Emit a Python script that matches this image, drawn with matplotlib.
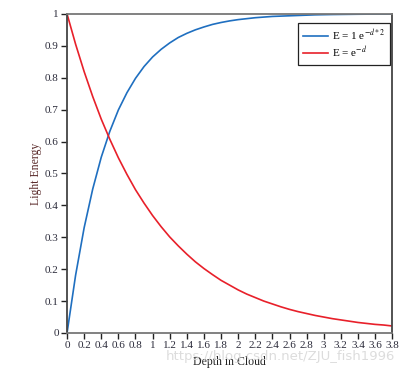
import matplotlib
matplotlib.use('Agg')
import numpy as np
from matplotlib import pyplot as plt

# values
depth = [0.0, 0.1, 0.2, 0.3, 0.4, 0.5, 0.6, 0.7, 0.8, 0.9, 1.0, 1.1, 1.2, 1.3,
         1.4, 1.5, 1.6, 1.7, 1.8, 1.9, 2.0, 2.1, 2.2, 2.3, 2.4, 2.5, 2.6, 2.7,
         2.8, 2.9, 3.0, 3.1, 3.2, 3.3, 3.4, 3.5, 3.6, 3.7, 3.8]
energy_blue = [0.0, 0.181, 0.330, 0.451, 0.551, 0.632, 0.699, 0.753, 0.798, 0.835,
               0.865, 0.889, 0.909, 0.926, 0.939, 0.950, 0.959, 0.967, 0.973, 0.978,
               0.982, 0.985, 0.988, 0.990, 0.992, 0.993, 0.994, 0.995, 0.996, 0.997,
               0.9975, 0.998, 0.9983, 0.9986, 0.9989, 0.9991, 0.9993, 0.9994, 0.9995]
energy_red = [1.0, 0.905, 0.819, 0.741, 0.670, 0.607, 0.549, 0.497, 0.449, 0.407,
              0.368, 0.333, 0.301, 0.273, 0.247, 0.223, 0.202, 0.183, 0.165, 0.150,
              0.135, 0.122, 0.111, 0.100, 0.091, 0.082, 0.074, 0.067, 0.061, 0.055,
              0.050, 0.045, 0.041, 0.037, 0.033, 0.030, 0.027, 0.025, 0.022]
label_blue = r'E = 1 e$^{-d*2}$'
label_red = r'E = e$^{-d}$'
xticks = [0, 0.2, 0.4, 0.6, 0.8, 1, 1.2, 1.4, 1.6, 1.8, 2, 2.2, 2.4, 2.6, 2.8,
          3, 3.2, 3.4, 3.6, 3.8]
yticks = [0, 0.1, 0.2, 0.3, 0.4, 0.5, 0.6, 0.7, 0.8, 0.9, 1]

plt.rcParams['font.family'] = ['Liberation Serif', 'DejaVu Serif']
plt.rcParams['mathtext.fontset'] = 'stix'

fig = plt.figure(figsize=(4.19, 3.75), dpi=100)
ax = fig.add_axes([0.160, 0.112, 0.776, 0.851])

ax.plot(depth, energy_blue, color='#1f6fc0', lw=1.2, label=label_blue)
ax.plot(depth, energy_red, color='#e8202a', lw=1.2, label=label_red)

ax.set_xlim(0, 3.8)
ax.set_ylim(0, 1)
ax.set_xticks(xticks)
ax.set_xticklabels(['%g' % t for t in xticks])
ax.set_yticks(yticks)
ax.set_yticklabels(['%g' % t for t in yticks])
ax.tick_params(direction='out', length=4, width=1, colors='#222',
               labelsize=8, labelcolor='#2b2b3a', pad=2)

for side in ['left', 'right']:
    ax.spines[side].set_color('#444')
    ax.spines[side].set_linewidth(1.3)
for side in ['top', 'bottom']:
    ax.spines[side].set_color('#777')
    ax.spines[side].set_linewidth(1.3)

ax.set_xlabel('Depth in Cloud', fontsize=8.5, color='#222', labelpad=4)
ax.set_ylabel('Light Energy', fontsize=8.5, color='#5a2a2a', labelpad=2)

leg = ax.legend(loc='upper right', bbox_to_anchor=(0.994, 0.972),
                borderaxespad=0, fontsize=8, fancybox=False, framealpha=1,
                edgecolor='#222', handlelength=2.2, handletextpad=0.4,
                borderpad=0.45, labelspacing=0.15)
leg.get_frame().set_linewidth(0.9)

# watermark
fig.text(0.395, 0.04, 'https://blog.csdn.net/ZJU_fish1996', fontsize=9.5,
         color='#d9d9d9', family='DejaVu Sans', alpha=0.9)

plt.savefig('out.png', dpi=100)
plt.close()
